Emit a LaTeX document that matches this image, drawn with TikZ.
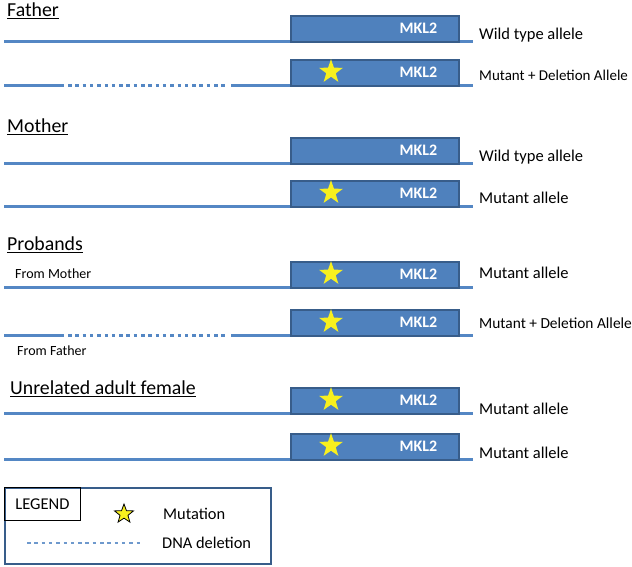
\documentclass[tikz,border=0pt]{standalone}
\usepackage{fontspec}
\setmainfont{Carlito}
\usetikzlibrary{shapes.geometric}
\definecolor{genefill}{RGB}{79,129,189}
\definecolor{geneedge}{RGB}{56,93,138}
\definecolor{chromcol}{RGB}{84,135,196}
\definecolor{staryellow}{RGB}{248,240,30}
\tikzset{
  chrom/.style={draw=chromcol, line width=3pt},
  delline/.style={draw=chromcol, line width=3pt, dash pattern=on 3.5pt off 3.8pt},
  genebox/.style={draw=geneedge, fill=genefill, line width=1.6pt, minimum width=168pt, minimum height=26pt, inner sep=0pt},
  genename/.style={text=white, font=\fontsize{16}{18}\selectfont\bfseries, inner sep=0pt},
  mutstar/.style={star, star points=5, star point ratio=2.5, minimum size=25pt, inner sep=0pt, fill=staryellow},
  allelelab/.style={anchor=west, font=\fontsize{16.5}{19}\selectfont, inner sep=0pt},
  heading/.style={anchor=west, font=\fontsize{19.8}{22}\selectfont, inner sep=0pt},
  smalllab/.style={anchor=west, font=\fontsize{14}{16}\selectfont, inner sep=0pt},
  legtext/.style={anchor=west, font=\fontsize{16.4}{19}\selectfont, inner sep=0pt},
}
\newcommand\dellab{\fontsize{15}{17}\selectfont}
% #1 id, #2 line y, #3 label, #4 label y
\newcommand\genebar[4]{%
  \coordinate (#1R) at (473,#2);
  \node[genebox, anchor=south west] (#1box) at (290,#2+1.5) {};
  \node[genename] (#1name) at (418.5,#2-13) {MKL2};
  \node[allelelab] (#1lab) at (479,#4) {#3};
}
\newcommand\plainline[1]{%
  \coordinate (#1L) at (4,0 |- #1R);
  \draw[chrom] (#1L) -- (#1R);
}
\newcommand\delline[1]{%
  \coordinate (#1L) at (4,0 |- #1R);
  \coordinate (#1a) at (64,0 |- #1R);
  \coordinate (#1b) at (68,0 |- #1R);
  \coordinate (#1c) at (228,0 |- #1R);
  \coordinate (#1d) at (231,0 |- #1R);
  \draw[chrom] (#1L) -- (#1a);
  \draw[delline] (#1b) -- (#1c);
  \draw[chrom] (#1d) -- (#1R);
}
\newcommand\mutation[1]{%
  \node[mutstar] (#1star) at ([xshift=41pt,yshift=1pt]#1box.west) {};
}
\begin{document}
\begin{tikzpicture}[x=1pt,y=-1pt]
\useasboundingbox (0,0) rectangle (632,566);
% Father
\node[heading] (hfather) at (7,11) {\underline{Father}};
\coordinate (f1R) at (473,41);
\coordinate (f2R) at (473,85);
\plainline{f1}
\delline{f2}
\genebar{f1}{41}{Wild type allele}{35}
\genebar{f2}{85}{\dellab Mutant + Deletion Allele}{75}
\mutation{f2}
% Mother
\node[heading] (hmother) at (7,127) {\underline{Mother}};
\coordinate (m1R) at (473,163);
\coordinate (m2R) at (473,206);
\plainline{m1}
\plainline{m2}
\genebar{m1}{163}{Wild type allele}{157}
\genebar{m2}{206}{Mutant allele}{198}
\mutation{m2}
% Probands
\node[heading] (hprob) at (7,245) {\underline{Probands}};
\node[smalllab] (fmother) at (15,274) {From Mother};
\node[smalllab] (ffather) at (17,351) {From Father};
\coordinate (p1R) at (473,287);
\coordinate (p2R) at (473,335);
\plainline{p1}
\delline{p2}
\genebar{p1}{287}{Mutant allele}{273}
\genebar{p2}{335}{\fontsize{15.4}{17}\selectfont Mutant + Deletion Allele}{323}
\mutation{p1}
\mutation{p2}
% Unrelated
\node[heading] (hunrel) at (10,389) {\underline{Unrelated adult female}};
\coordinate (u1R) at (473,413);
\coordinate (u2R) at (473,459);
\plainline{u1}
\plainline{u2}
\genebar{u1}{413}{Mutant allele}{409}
\genebar{u2}{459}{Mutant allele}{453}
\mutation{u1}
\mutation{u2}
% Legend
\node[draw=geneedge, line width=1.6pt, minimum width=266pt, minimum height=76pt, anchor=north west, inner sep=0pt] (legend) at (4,487) {};
\node[draw=black, line width=0.8pt, minimum width=76pt, minimum height=33pt, anchor=north west, inner sep=0pt, font=\fontsize{16.5}{19}\selectfont] (legtitle) at (legend.north west) {LEGEND};
\node[star, star points=5, star point ratio=2.4, minimum size=20pt, inner sep=0pt, fill=staryellow, draw=black, line width=0.8pt] (legstar) at (124,514) {};
\node[legtext] (legmut) at (163,514) {Mutation};
\coordinate (legdelA) at (27,543);
\coordinate (legdelB) at (140,543);
\draw[delline, line width=2.5pt, draw=chromcol!85] (legdelA) -- (legdelB);
\node[legtext] (legdel) at (162,543) {DNA deletion};
\end{tikzpicture}
\end{document}
